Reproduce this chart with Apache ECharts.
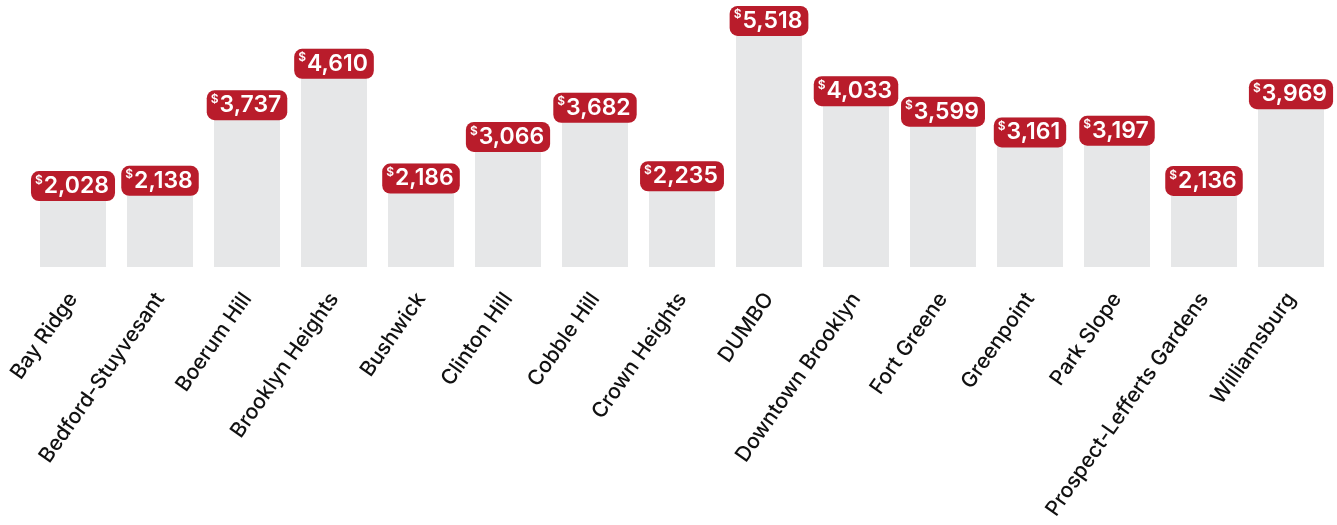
<!DOCTYPE html>
<html><head><meta charset="utf-8">
<script src="https://cdn.jsdelivr.net/npm/echarts@6/dist/echarts.min.js"></script>
<style>html,body{margin:0;padding:0;background:#fff}#c{width:1337px;height:525px}</style>
</head><body><div id="c"></div>
<script>
const categories = ["Bay Ridge","Bedford-Stuyvesant","Boerum Hill","Brooklyn Heights","Bushwick","Clinton Hill","Cobble Hill","Crown Heights","DUMBO","Downtown Brooklyn","Fort Greene","Greenpoint","Park Slope","Prospect-Lefferts Gardens","Williamsburg"];
const rents = [2028,2138,3737,4610,2186,3066,3682,2235,5518,4033,3599,3161,3197,2136,3969];

const chart = echarts.init(document.getElementById('c'), null, {renderer:'canvas'});
chart.setOption({
  animation:false,
  grid:{left:29.5, right:2.5, top:2, bottom:258},
  xAxis:{type:'category', data:categories,
    axisLine:{show:false}, axisTick:{show:false},
    axisLabel:{rotate:55, interval:0, margin:28, color:'#111', fontFamily:'Inter', fontSize:21, fontWeight:500}},
  yAxis:{type:'value', min:0, max:5600, show:false, splitLine:{show:false}},
  series:[{type:'bar', data:rents, barWidth:66, itemStyle:{color:'#e6e7e8'},
    label:{show:true, position:'insideTop', distance:0,
      backgroundColor:'#b91c2b', borderRadius:8, padding:[3,6,3,4],
      formatter:p=>'{s|$}{v|'+p.value.toLocaleString('en-US')+'}',
      rich:{
        s:{color:'#fff', fontFamily:'Inter', fontSize:12, fontWeight:600, verticalAlign:'top', lineHeight:24, padding:[0,1,10,0]},
        v:{color:'#fff', fontFamily:'Inter', fontSize:23, fontWeight:600, lineHeight:24}
      }}
  }]
});
</script></body></html>
